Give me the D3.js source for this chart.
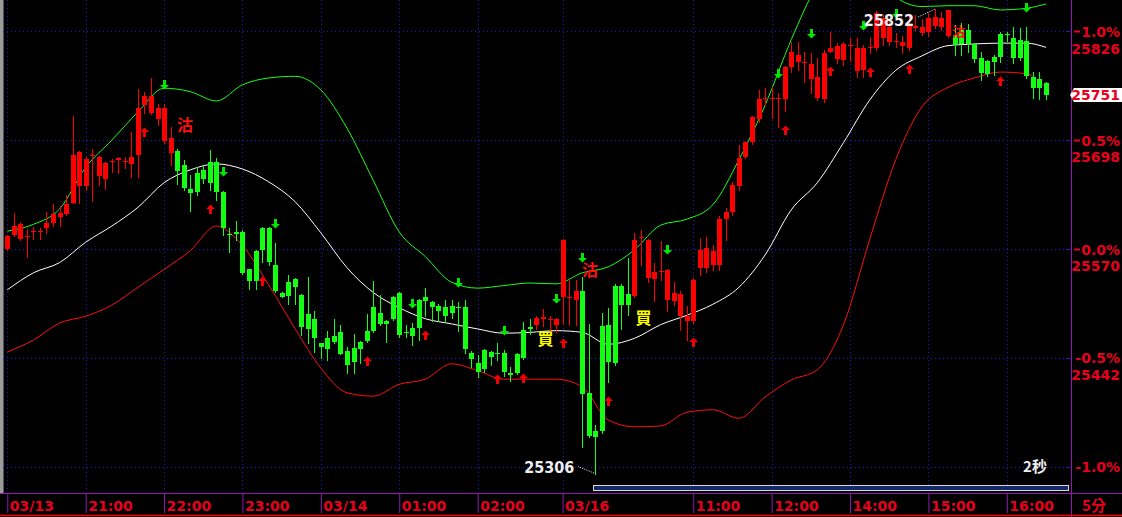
<!DOCTYPE html>
<html><head><meta charset="utf-8">
<script src="https://cdn.jsdelivr.net/npm/d3@7"></script>
<style>html,body{margin:0;padding:0;background:#000;overflow:hidden}</style>
</head><body><svg id="c" width="1122" height="517"></svg>
<script>
// ---------- DATA ----------
const opens  = [25570,25586,25582,25584,25590,25590,25595,25601,25608,25611,25624,25644,25644,25680,25656,25652,25673,25675,25672,25670,
25681,25739,25730,25723,25697,25683,25685,25669,25641,25659,25663,25672,25672,25637,25588,25590,25590,25546,25568,25595,
25595,25551,25518,25531,25535,25516,25494,25488,25459,25465,25468,25472,25450,25454,25461,25474,25502,25495,25485,25514,
25518,25473,25477,25510,25514,25508,25503,25502,25503,25502,25502,25448,25436,25451,25449,25448,25448,25424,25447,25475,
25478,25481,25488,25487,25481,25514,25512,25510,25521,25401,25356,25479,25481,25527,25527,25517,25515,25583,25536,25535,
25543,25510,25509,25491,25485,25485,25548,25548,25551,25551,25605,25613,25644,25678,25696,25723,25747,25746,25746,25746,
25784,25790,25789,25770,25748,25746,25802,25793,25792,25809,25779,25780,25806,25806,25818,25813,25813,25809,25806,25830,
25824,25825,25832,25831,25820,25822,25827,25827,25811,25795,25791,25796,25823,25823,25818,25816,25815,25772,25770,25765];
const highs  = [25586,25612,25602,25594,25596,25595,25613,25623,25621,25633,25726,25685,25678,25688,25679,25672,25676,25678,25678,25708,
25758,25755,25771,25740,25740,25713,25688,25675,25657,25666,25669,25686,25677,25638,25595,25603,25592,25547,25569,25596,
25596,25577,25519,25539,25536,25517,25537,25497,25460,25474,25488,25481,25455,25470,25462,25494,25532,25516,25486,25515,
25519,25481,25483,25511,25524,25509,25505,25510,25510,25508,25510,25450,25445,25452,25450,25459,25451,25431,25448,25484,
25488,25491,25499,25491,25489,25582,25534,25534,25537,25482,25363,25495,25501,25529,25529,25559,25589,25592,25582,25554,
25579,25546,25531,25521,25503,25536,25583,25584,25575,25609,25618,25649,25692,25697,25726,25757,25759,25760,25753,25785,
25813,25813,25802,25800,25795,25804,25825,25812,25813,25818,25818,25810,25819,25850,25845,25839,25824,25820,25844,25845,
25840,25847,25852,25849,25851,25833,25836,25835,25812,25802,25792,25798,25825,25825,25831,25830,25831,25778,25778,25766];
const lows   = [25569,25585,25581,25561,25582,25582,25589,25597,25597,25610,25624,25624,25639,25626,25645,25641,25661,25659,25665,25655,
25655,25730,25729,25716,25695,25669,25646,25639,25615,25633,25648,25639,25628,25586,25566,25581,25541,25523,25523,25555,
25551,25520,25513,25505,25505,25469,25459,25449,25442,25439,25460,25446,25424,25424,25436,25461,25473,25481,25461,25487,
25467,25467,25457,25463,25491,25485,25485,25484,25489,25474,25448,25431,25420,25425,25434,25439,25421,25415,25423,25441,
25470,25476,25480,25474,25472,25482,25481,25481,25337,25349,25306,25354,25414,25434,25476,25492,25514,25551,25531,25509,
25534,25497,25504,25475,25463,25483,25539,25543,25545,25545,25581,25610,25639,25677,25693,25719,25739,25724,25713,25732,
25778,25780,25766,25753,25745,25743,25801,25789,25786,25791,25772,25772,25800,25804,25810,25810,25808,25800,25804,25828,
25822,25820,25830,25828,25819,25798,25798,25802,25790,25769,25773,25775,25790,25815,25789,25792,25771,25747,25746,25746];
const closes = [25585,25597,25599,25585,25591,25591,25601,25611,25612,25623,25681,25684,25676,25681,25678,25671,25674,25677,25673,25678,
25736,25750,25750,25736,25736,25701,25662,25642,25636,25637,25652,25648,25637,25595,25587,25588,25542,25532,25532,25569,
25555,25521,25514,25515,25525,25478,25476,25465,25455,25452,25461,25447,25434,25437,25452,25462,25474,25482,25482,25488,
25469,25472,25468,25477,25509,25502,25497,25491,25495,25501,25452,25441,25425,25429,25443,25447,25425,25422,25424,25442,
25476,25489,25490,25488,25488,25581,25513,25521,25400,25350,25349,25356,25437,25436,25504,25504,25581,25584,25581,25543,
25544,25545,25518,25517,25491,25534,25569,25571,25568,25605,25613,25645,25677,25696,25725,25746,25748,25747,25747,25784,
25802,25798,25790,25788,25772,25800,25806,25809,25811,25810,25806,25806,25807,25847,25842,25831,25814,25813,25832,25832,
25831,25842,25843,25842,25851,25810,25811,25811,25793,25777,25776,25790,25796,25822,25795,25795,25773,25759,25759,25751];

// time axis labels (bar index -> label)
const tickIdx    = [0,12,24,36,48,60,72,85,105,117,129,141,153];
const tickLabels = ['03/13','21:00','22:00','23:00','03/14','01:00','02:00','03/16','11:00','12:00','14:00','15:00','16:00'];

// Bollinger bands, read every 4 bars
const bandIdx   = [0,4,8,12,16,20,24,28,32,36,40,44,48,52,56,60,64,68,72,76,80,84,88,92,96,100,104,108,112,116,120,124,128,132,136,140,144,148,152,156,159];
const bandUpper = [25591,25599,25617,25666,25698,25731,25759,25755,25744,25763,25771,25773,25757,25712,25651,25590,25561,25531,25524,25527,25530,25529,25542,25549,25569,25598,25605,25622,25675,25739,25816,25880,25910,25898,25866,25855,25856,25856,25851,25853,25858];
const bandMid   = [25522,25542,25554,25578,25597,25619,25648,25663,25670,25664,25649,25626,25589,25548,25519,25501,25488,25482,25476,25471,25472,25474,25472,25458,25465,25481,25492,25505,25525,25563,25616,25648,25695,25745,25780,25797,25809,25811,25812,25812,25807];
const bandLower = [25449,25463,25483,25491,25504,25525,25546,25568,25597,25574,25528,25477,25430,25401,25397,25411,25417,25435,25427,25417,25417,25417,25408,25369,25361,25362,25378,25381,25371,25396,25416,25428,25481,25581,25675,25737,25760,25771,25778,25776,25759];

// signals
const buyIdx  = [21,31,39,55,64,75,79,85,92,105,119,126,132,138,152];
const sellIdx = [24,33,41,62,69,76,84,88,101,118,123,131,136,156];
const sellTextIdx   = [27.2,89.2,145.6];
const sellTextPrice = [25716,25545,25826];
const buyTextIdx    = [82.4,97.4];
const buyTextPrice  = [25464,25489];

const basePrice = 25570;
const pctLevels = [1.0,0.5,0.0,-0.5,-1.0];
const lastPrice = 25751;
const lowIdx = 90, highIdx = 142;

// ---------- DRAW ----------
const W = 1122, H = 517;
const RED = '#e8001c', PURPLE = '#9414b4', GRID = '#1a1ad8';
const AX_FONT = '"DejaVu Sans", sans-serif';
const CJK = '"Noto Sans CJK TC","Noto Sans CJK SC",sans-serif';
const svg = d3.select('#c');

const x = d3.scaleLinear().domain([0, opens.length - 1]).range([7.3, 1046]);
const y = d3.scaleLinear().domain([25286.7, 25862.7]).range([490, 0]);

svg.append('rect').attr('width', W).attr('height', H).attr('fill', '#000');
svg.append('defs').append('clipPath').attr('id', 'clip')
  .append('rect').attr('x', 3).attr('y', 0).attr('width', 1067).attr('height', 490);

// left gray edge
svg.append('rect').attr('x', 0).attr('y', 0).attr('width', 3).attr('height', 493).attr('fill', '#9c9c9c');
svg.append('line').attr('x1', 3.5).attr('x2', 3.5).attr('y1', 0).attr('y2', 493).attr('stroke', '#555');

const plot = svg.append('g').attr('clip-path', 'url(#clip)');

// grid
plot.selectAll('.vg').data(tickIdx).join('line')
  .attr('x1', d => Math.round(x(d)) + 0.5).attr('x2', d => Math.round(x(d)) + 0.5)
  .attr('y1', 0).attr('y2', 490).attr('stroke', GRID).attr('stroke-dasharray', '1,3');
plot.selectAll('.hg').data(pctLevels).join('line')
  .attr('x1', 3).attr('x2', 1070)
  .attr('y1', d => Math.round(y(basePrice * (1 + d / 100))) + 0.5)
  .attr('y2', d => Math.round(y(basePrice * (1 + d / 100))) + 0.5)
  .attr('stroke', GRID).attr('stroke-dasharray', '1,3');

// bands
const bandLine = arr => d3.line().curve(d3.curveMonotoneX).x((d, i) => x(bandIdx[i])).y(d => y(d))(arr);
[[bandUpper, '#18ff18'], [bandMid, '#ffffff'], [bandLower, '#ff1010']].forEach(([arr, col]) => {
  plot.append('path').attr('d', bandLine(arr)).attr('fill', 'none').attr('stroke', col).attr('stroke-width', 1);
});

// candles
const bars = d3.range(opens.length).map(i => ({ i, o: opens[i], h: highs[i], l: lows[i], c: closes[i] }));
const colOf = d => d.c >= d.o ? '#ff0000' : '#14ff14';
const cg = plot.append('g');
cg.selectAll('line').data(bars).join('line')
  .attr('x1', d => Math.round(x(d.i)) + 0.5).attr('x2', d => Math.round(x(d.i)) + 0.5)
  .attr('y1', d => Math.round(y(d.h))).attr('y2', d => Math.round(y(d.l)) + 1)
  .attr('stroke', colOf).attr('stroke-width', 1);
cg.selectAll('rect').data(bars).join('rect')
  .attr('x', d => Math.round(x(d.i)) - 2)
  .attr('y', d => Math.round(y(Math.max(d.o, d.c))))
  .attr('width', 5)
  .attr('height', d => Math.max(1, Math.round(y(Math.min(d.o, d.c))) - Math.round(y(Math.max(d.o, d.c)))))
  .attr('fill', colOf);

// arrows
function upArrow(cx, t) {
  return `M${cx - 4},${t + 4}L${cx + 0.5},${t - 0.5}L${cx + 5},${t + 4}L${cx + 2},${t + 4}L${cx + 2},${t + 9}L${cx - 1},${t + 9}L${cx - 1},${t + 4}Z`;
}
function downArrow(cx, b) {
  return `M${cx - 4},${b - 4}L${cx + 0.5},${b + 0.5}L${cx + 5},${b - 4}L${cx + 2},${b - 4}L${cx + 2},${b - 9}L${cx - 1},${b - 9}L${cx - 1},${b - 4}Z`;
}
plot.selectAll('.ua').data(buyIdx).join('path')
  .attr('d', i => upArrow(Math.round(x(i)), Math.round(y(lows[i])) + 15)).attr('fill', '#f00000');
plot.selectAll('.da').data(sellIdx).join('path')
  .attr('d', i => downArrow(Math.round(x(i)), Math.round(y(highs[i])) - 15)).attr('fill', '#00e800');

// sell / buy texts
sellTextIdx.forEach((ix, k) => {
  plot.append('text').attr('x', x(ix)).attr('y', y(sellTextPrice[k])).attr('dy', '0.38em')
    .attr('text-anchor', 'middle').attr('fill', '#ff1010')
    .style('font-family', CJK).style('font-size', k === 2 ? '13px' : '16px').style('font-weight', 'bold').text('沽');
});
buyTextIdx.forEach((ix, k) => {
  plot.append('text').attr('x', x(ix)).attr('y', y(buyTextPrice[k])).attr('dy', '0.38em')
    .attr('text-anchor', 'middle').attr('fill', '#ffff00')
    .style('font-family', CJK).style('font-size', '16px').style('font-weight', 'bold').text('買');
});

// extreme labels
const EXT_FONT = '"DejaVu Sans Condensed","DejaVu Sans",sans-serif';
{
  const lx = x(lowIdx), ly = y(lows[lowIdx]);
  svg.append('line').attr('x1', lx - 17).attr('y1', ly - 7).attr('x2', lx).attr('y2', ly)
    .attr('stroke', '#ddd').attr('stroke-dasharray', '1,1');
  svg.append('text').attr('x', lx - 21).attr('y', ly - 1).attr('text-anchor', 'end').attr('fill', '#eeeeee')
    .style('font-family', EXT_FONT).style('font-size', '16px').style('font-weight', 'bold').text(String(lows[lowIdx]));
  const hx = x(highIdx), hy = y(highs[highIdx]);
  svg.append('line').attr('x1', hx - 17).attr('y1', hy + 8).attr('x2', hx).attr('y2', hy)
    .attr('stroke', '#ddd').attr('stroke-dasharray', '1,1');
  svg.append('text').attr('x', hx - 21).attr('y', hy + 17).attr('text-anchor', 'end').attr('fill', '#eeeeee')
    .style('font-family', EXT_FONT).style('font-size', '16px').style('font-weight', 'bold').text(String(highs[highIdx]));
}
svg.append('text').attr('x', 1035).attr('y', 472).attr('text-anchor', 'middle').attr('fill', '#eeeeee')
  .style('font-family', CJK).style('font-size', '15px').style('font-weight', 'bold').text('2秒');

// scroll bar
svg.append('rect').attr('x', 593.5).attr('y', 485.5).attr('width', 475).attr('height', 5)
  .attr('fill', '#15296a').attr('stroke', '#d8d8d8').attr('stroke-width', 1);

// axes frame
svg.append('line').attr('x1', 1071.5).attr('x2', 1071.5).attr('y1', 0).attr('y2', H).attr('stroke', PURPLE);
svg.append('line').attr('x1', 0).attr('x2', W).attr('y1', 493.5).attr('y2', 493.5).attr('stroke', PURPLE);
svg.append('line').attr('x1', 0).attr('x2', W).attr('y1', 515.5).attr('y2', 515.5).attr('stroke', '#ff0000').attr('stroke-width', 1.5);

// right axis
const pctVals = pctLevels.map(p => basePrice * (1 + p / 100));
const yAxis = d3.axisRight(y).tickValues(pctVals).tickSize(0)
  .tickFormat(d => { const v = (d / basePrice - 1) * 100; return (Math.abs(v) < 1e-9 ? 0 : v).toFixed(1) + '%'; });
const gY = svg.append('g').attr('transform', 'translate(1120,0)').call(yAxis);
gY.select('.domain').remove();
gY.selectAll('text').attr('x', 0).attr('dy', '0.36em').attr('text-anchor', 'end').attr('fill', RED)
  .style('font-family', AX_FONT).style('font-size', '14px').style('font-weight', 'bold');
pctVals.forEach((v, k) => {
  const yy = Math.round(y(v)) + 0.5;
  svg.append('line').attr('x1', 1066).attr('x2', 1070).attr('y1', yy).attr('y2', yy).attr('stroke', GRID);
  if (pctLevels[k] >= 0) svg.append('line').attr('x1', 1074).attr('x2', 1080).attr('y1', yy).attr('y2', yy).attr('stroke', RED).attr('stroke-width', 2);
  if (pctLevels[k] > -1) {
    svg.append('text').attr('x', 1120).attr('y', y(v) + 17).attr('dy', '0.36em').attr('text-anchor', 'end').attr('fill', RED)
      .style('font-family', AX_FONT).style('font-size', '14px').style('font-weight', 'bold').text(Math.round(v));
  }
});
// last price tag
{
  const ly = Math.round(y(lastPrice));
  svg.append('path').attr('d', `M1070,${ly}L1074,${ly - 7}L1122,${ly - 7}L1122,${ly + 7}L1074,${ly + 7}Z`).attr('fill', '#ffffff');
  svg.append('text').attr('x', 1120).attr('y', ly).attr('dy', '0.36em').attr('text-anchor', 'end').attr('fill', RED)
    .style('font-family', AX_FONT).style('font-size', '14px').style('font-weight', 'bold').text(lastPrice);
}

// bottom axis
const xAxis = d3.axisBottom(x).tickValues(tickIdx).tickSize(20).tickSizeOuter(0)
  .tickFormat(d => tickLabels[tickIdx.indexOf(d)]);
const gX = svg.append('g').attr('transform', 'translate(0,493)').call(xAxis);
gX.select('.domain').remove();
gX.selectAll('line').attr('stroke', PURPLE);
gX.selectAll('text').attr('x', 2).attr('y', 8).attr('dy', '0.71em').attr('text-anchor', 'start').attr('fill', RED)
  .style('font-family', AX_FONT).style('font-size', '14px').style('font-weight', 'bold');
svg.append('text').attr('x', 1094).attr('y', 506).attr('dy', '0.36em').attr('text-anchor', 'middle').attr('fill', RED)
  .style('font-family', CJK).style('font-size', '15px').style('font-weight', 'bold').text('5分');
</script>
</body></html>
